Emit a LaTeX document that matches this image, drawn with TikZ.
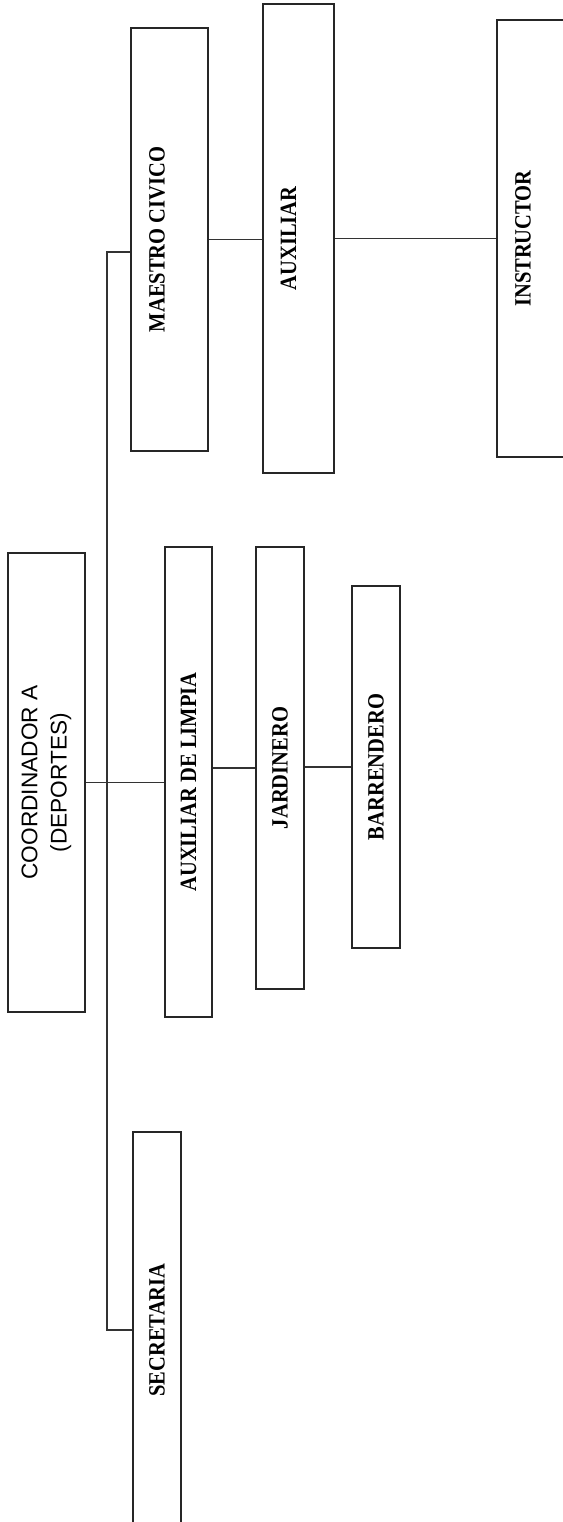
\documentclass[tikz,border=0pt]{standalone}
\usepackage{fontspec}
\setmainfont{Liberation Serif}
\newfontfamily\cargofont{Liberation Serif}[FakeStretch=0.88]
\newfontfamily\arialfont{Liberation Sans}

\begin{document}
\begin{tikzpicture}[x=0.75pt,y=-0.75pt,every node/.style={rotate=90, draw=black!85, line width=1.1pt, inner sep=0pt, font=\cargofont\fontsize{17.5}{20}\selectfont\bfseries},
  line/.style={draw=black!80, line width=1pt}]

\useasboundingbox (0,0) rectangle (563,1522);
\clip (0,0) rectangle (563,1522);

\node[minimum width=344.25pt, minimum height=57.75pt, line width=2pt, align=center, font=\arialfont\fontsize{17}{22}\selectfont] (coord) at (46.5,782.5) {COORDINADOR A\\(DEPORTES)};

\node[minimum width=352.5pt, minimum height=35.25pt] (limpia) at (188.5,782) {AUXILIAR DE LIMPIA};
\node[minimum width=331.5pt, minimum height=36pt] (jardinero) at (280,768) {JARDINERO};
\node[minimum width=271.5pt, minimum height=36pt] (barrendero) at (376,767) {BARRENDERO};
\node[minimum width=297pt, minimum height=36pt] (secretaria) at (157,1330) {SECRETARIA};

\node[minimum width=317.25pt, minimum height=57.75pt, text depth=19pt] (maestro) at (169.5,239.5) {MAESTRO CIVICO};
\node[minimum width=351.75pt, minimum height=53.25pt, text depth=15pt] (auxiliar) at (298.5,238.5) {AUXILIAR};
\node[minimum width=327.75pt, minimum height=57.75pt, text depth=19pt] (instructor) at (535.5,238.5) {INSTRUCTOR};

\coordinate (top) at (107,252);
\coordinate (bot) at (107,1330);
\draw[line] (maestro.north |- top) -- (top) -- (bot) -- (secretaria.north |- bot);

\draw[line] (coord.south) -- (coord.south -| limpia.north);
\draw[line] (limpia.south |- jardinero.north) -- (jardinero.north);
\draw[line] (jardinero.south |- barrendero.north) -- (barrendero.north);
\draw[line] (maestro.south) -- (maestro.south -| auxiliar.north);
\draw[line] (auxiliar.south) -- (auxiliar.south -| instructor.north);
\end{tikzpicture}
\end{document}
